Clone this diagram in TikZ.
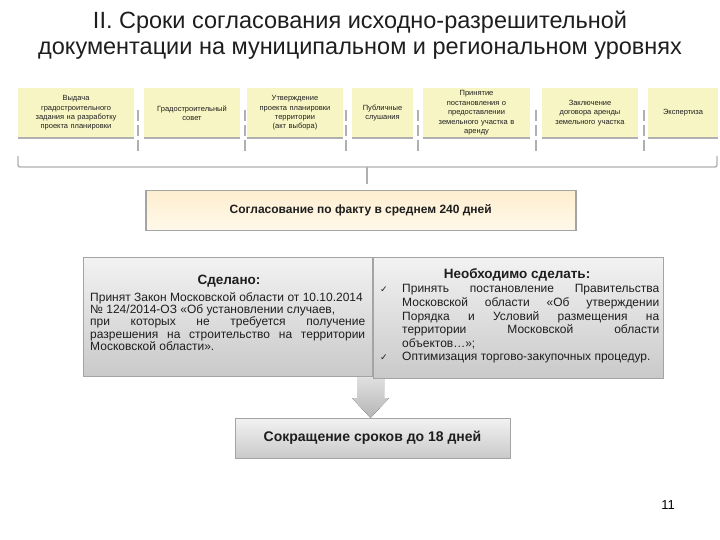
\documentclass[tikz,border=0pt]{standalone}
\usepackage{fontspec}
\setmainfont{Liberation Sans}
\newfontfamily\symfont{DejaVu Sans}
\usepackage{tikz}

\definecolor{stageyellow}{HTML}{F8F5C4}
\definecolor{shadowgray}{HTML}{B0B0B0}
\definecolor{framegray}{HTML}{A4A4A4}
\definecolor{creamtop}{HTML}{FDEED0}
\definecolor{creambot}{HTML}{FFF8EA}
\definecolor{inkgray}{HTML}{1E1E1E}

\begin{document}
\begin{tikzpicture}[x=1pt,y=-1pt,
		stagebox/.style={fill=stageyellow, inner sep=0pt, outer sep=0pt, minimum height=50pt,
			anchor=north west, align=center, text=inkgray, font=\fontsize{7.5}{9.4}\selectfont},
		graybox/.style={top color=gray!10, bottom color=gray!42, draw=framegray, line width=0.8pt,
			inner sep=0pt, outer sep=0pt, anchor=north west},
		divider/.style={shadowgray, line width=1.4pt, dash pattern=on 11pt off 4pt},
		bracket/.style={shadowgray, line width=1.4pt},
		headtext/.style={text=inkgray, font=\fontsize{13.5}{15}\selectfont\bfseries},
		bodytext/.style={text=inkgray, inner sep=0pt, anchor=north west, align=justify,
			font=\fontsize{12}{12.4}\selectfont}]
		\useasboundingbox (0,0) rectangle (720,540);

		% >>> title
		\node[align=center, text=inkgray, font=\fontsize{23.5}{26.5}\selectfont] (title) at (360,35)
			{II. Сроки согласования исходно-разрешительной\\документации на муниципальном и региональном уровнях};
		% <<< title

		% >>> stages
		\node[stagebox, minimum width=116pt, text width=112pt] (issue) at (18,88)
			{Выдача\\градостроительного\\задания на разработку\\проекта планировки};
		\node[stagebox, minimum width=96pt, text width=92pt] (council) at (144,88)
			{Градостроительный\\совет};
		\node[stagebox, minimum width=96pt, text width=92pt] (approval) at (247,88)
			{Утверждение\\проекта планировки\\территории\\(акт выбора)};
		\node[stagebox, minimum width=61pt, text width=58pt] (hearing) at (352,88)
			{Публичные\\слушания};
		\node[stagebox, minimum width=107pt, text width=104pt] (lease) at (423,88)
			{Принятие\\постановления о\\предоставлении\\земельного участка в\\аренду};
		\node[stagebox, minimum width=96pt, text width=92pt] (contract) at (542,88)
			{Заключение\\договора аренды\\земельного участка};
		\node[stagebox, minimum width=70pt, text width=66pt] (expertise) at (648,88)
			{Экспертиза};
		\foreach \b in {issue,council,approval,hearing,lease,contract,expertise}
			\draw[shadowgray, line width=2pt] (\b.south west) -- (\b.south east);
		\foreach \x in {138,245,346,418,536,644}
			\draw[divider] (\x,110) -- (\x,152);
		% <<< stages

		% >>> bracket
		\draw[bracket, rounded corners=2pt] (18,156) -- (18,167) -- (717,167) -- (717,156);
		\coordinate (bracemid) at (367,167);
		% <<< bracket

		% >>> actual term
		\node[top color=creamtop, bottom color=creambot, draw=framegray, line width=1.5pt,
			minimum width=430pt, minimum height=40pt, inner sep=0pt, anchor=north west,
			text=inkgray, font=\fontsize{12}{14}\selectfont\bfseries] (agreed) at (145,190)
			{Согласование по факту в среднем 240 дней};
		\draw[bracket, shorten >=6pt] (bracemid) -- (bracemid |- agreed.north);
		% <<< actual term

		% >>> down arrow
		\fill[top color=gray!18, bottom color=gray!58]
			(357,370) -- (384,370) -- (384,398) -- (389,398) -- (370.5,418)
			-- (352,398) -- (357,398) -- cycle;
		% <<< down arrow

		% >>> done / to do
		\node[graybox, minimum width=289pt, minimum height=119pt] (done) at (83,257) {};
		\node[headtext] (donehead) at (229,281) {Сделано:};
		\node[bodytext, text width=275pt] (donetext) at (90,292)
			{Принят Закон Московской области от 10.10.2014\\
			№ 124/2014-ОЗ «Об установлении случаев,\\
			при которых не требуется получение\linebreak
			разрешения на строительство на территории\linebreak
			Московской области».};

		\node[graybox, minimum width=290pt, minimum height=121pt] (todo) at (373,257) {};
		\node[headtext] (todohead) at (517,275) {Необходимо сделать:};
		\node[bodytext, text width=279pt, font=\fontsize{12}{13.6}\selectfont] (todotext) at (380,284.5)
			{\hangindent=22pt\hangafter=1\noindent\makebox[22pt][l]{\symfont\fontsize{9}{9}\selectfont ✓}%
			Принять постановление Правительства\linebreak
			Московской области «Об утверждении\linebreak
			Порядка и Условий размещения на\linebreak
			территории Московской области\linebreak
			объектов…»;\par
			\hangindent=22pt\hangafter=1\noindent\makebox[22pt][l]{\symfont\fontsize{9}{9}\selectfont ✓}%
			Оптимизация торгово-закупочных процедур.};
		% <<< done / to do

		% >>> result
		\node[graybox, minimum width=275pt, minimum height=40pt, text=inkgray,
			font=\fontsize{14}{16}\selectfont\bfseries] (cut) at (235,418)
			{Сокращение сроков до 18 дней};
		% <<< result

		\node[text=black, font=\fontsize{13}{15}\selectfont] (pagenum) at (668,505) {11};
	\end{tikzpicture}
\end{document}
